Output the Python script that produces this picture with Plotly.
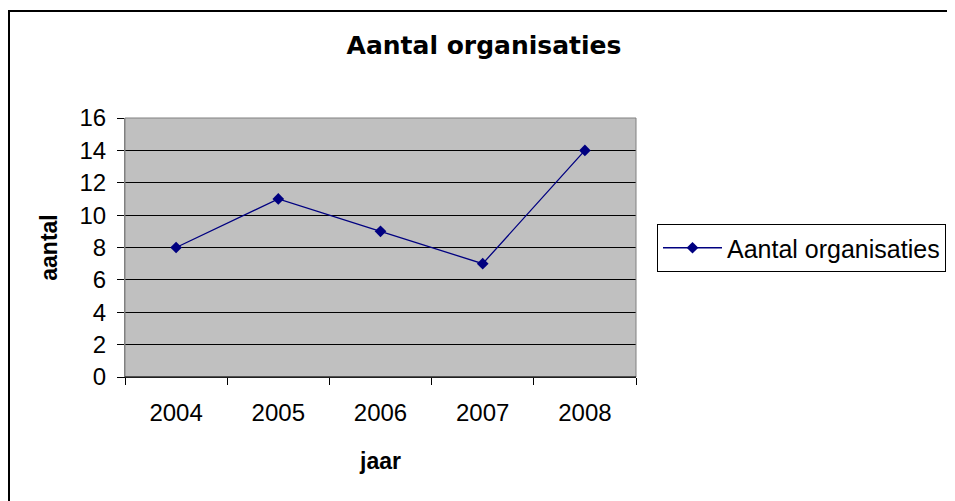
import plotly.graph_objects as go

# data
years = ["2004", "2005", "2006", "2007", "2008"]
aantal = [8, 11, 9, 7, 14]
series_name = "Aantal organisaties"

W, H = 955, 501
OFF = 8  # the page body margin shifts the figure by 8px
L, R, T, B = 125 - OFF, 636 - OFF, 118 - OFF, 377 - OFF  # plot area in figure pixels


def px_x(p):
    return (p - OFF - L) / (R - L)


def px_y(p):
    return (B - (p - OFF)) / (B - T)


fig = go.Figure()
fig.add_trace(go.Scatter(
    x=years, y=aantal, name=series_name,
    mode="lines+markers",
    line=dict(color="#000080", width=1.3),
    marker=dict(symbol="diamond", size=9, color="#000080"),
))

fig.update_layout(
    width=W, height=H,
    margin=dict(l=L, r=W - R, t=T, b=H - B, pad=0),
    paper_bgcolor="white",
    plot_bgcolor="#C0C0C0",
    font=dict(family="Liberation Sans, Arial", color="black"),
    title=dict(text="<b>Aantal organisaties</b>",
               font=dict(family="DejaVu Sans", size=25, color="black"),
               x=px_x(484), xref="paper", xanchor="center",
               y=1 - (45 - OFF) / H, yref="container", yanchor="middle"),
    showlegend=True,
    legend=dict(x=px_x(657), xanchor="left", y=px_y(224), yanchor="top",
                bgcolor="white", bordercolor="black", borderwidth=1,
                font=dict(size=25, color="black"), itemwidth=59,
                tracegroupgap=0),
)

fig.update_xaxes(
    type="category", range=[-0.5, 4.5],
    showline=True, linecolor="black", linewidth=1,
    ticks="outside", ticklen=7, tickcolor="black", tickson="boundaries",
    tickfont=dict(size=24), ticklabelstandoff=14,
    showgrid=False, zeroline=False,
    title=dict(text="<b>jaar</b>", font=dict(size=23), standoff=28),
)
fig.update_yaxes(
    range=[0, 16], dtick=2,
    showline=True, linecolor="#808080", linewidth=1,
    ticks="outside", ticklen=7, tickcolor="black",
    tickfont=dict(size=24), ticklabelstandoff=6,
    showgrid=True, gridcolor="black", gridwidth=1, zeroline=False,
    title=dict(text="<b>aantal</b>", font=dict(size=23), standoff=15),
)

# grey frame around the plot area, black frame around the chart
fig.add_shape(type="rect", xref="paper", yref="paper", x0=0, x1=1, y0=0, y1=1,
              line=dict(color="#808080", width=1), layer="above")
fig.add_shape(type="line", xref="paper", yref="paper", x0=0, x1=1, y0=0, y1=0,
              line=dict(color="black", width=1), layer="above")
fig.add_shape(type="rect", xref="paper", yref="paper",
              x0=px_x(OFF + 1), x1=px_x(1000), y0=px_y(560), y1=px_y(11),
              line=dict(color="black", width=2))

fig.write_html("out.html")
